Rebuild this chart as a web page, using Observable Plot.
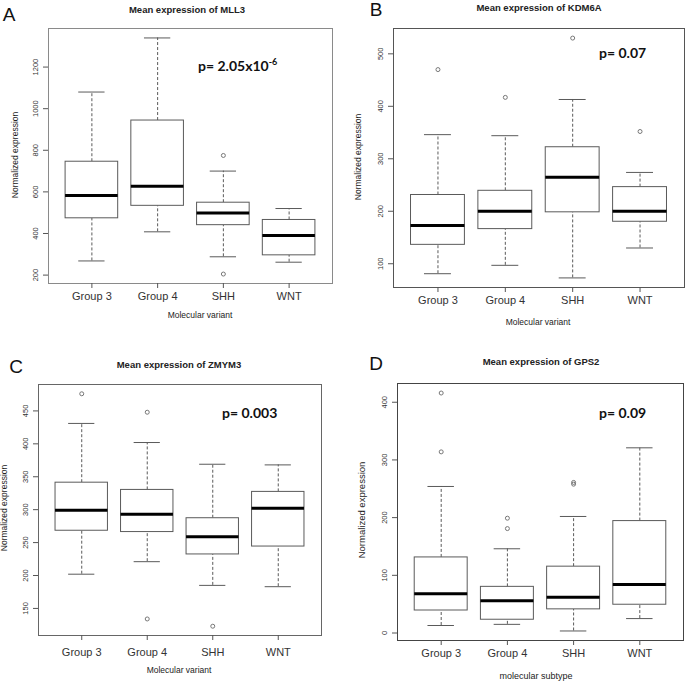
<!DOCTYPE html>
<html><head><meta charset="utf-8">
<script src="https://cdn.jsdelivr.net/npm/d3@7"></script>
<script src="https://cdn.jsdelivr.net/npm/@observablehq/plot@0.6"></script>
<style>
body{margin:0;background:#fff;}
#wrap{position:relative;width:685px;height:682px;overflow:hidden;background:#fff;font-family:"Liberation Sans",Arial,sans-serif;color:#222;}
.panel{position:absolute;}
.t{position:absolute;white-space:nowrap;line-height:1;}
.letter{font-size:19px;color:#111;}
.title{font-size:9.5px;font-weight:bold;}
.pval{font-family:Lato,"Open Sans",sans-serif;font-weight:bold;font-size:14px;color:#111;}
.ax{font-size:8.5px;}
</style></head><body><div id="wrap"></div>
<script>
const groups = ["Group 3", "Group 4", "SHH", "WNT"];

// Panel A: MLL3
const mll3Lower  = [268, 408, 288, 262];
const mll3Q1     = [473, 533, 440, 295];
const mll3Median = [583, 627, 498, 390];
const mll3Q3     = [745, 943, 548, 465];
const mll3Upper  = [1080, 1340, 700, 520];
const mll3Outliers = [["SHH", 775], ["SHH", 205]];
const mll3Ticks = [200, 400, 600, 800, 1000, 1200];

// Panel B: KDM6A
const kdm6aLower  = [81, 97, 73, 130];
const kdm6aQ1     = [136, 166, 198, 180];
const kdm6aMedian = [173, 200, 265, 200];
const kdm6aQ3     = [231, 239, 322, 246];
const kdm6aUpper  = [346, 344, 413, 274];
const kdm6aOutliers = [["Group 3", 470], ["Group 4", 417], ["SHH", 530], ["WNT", 352]];
const kdm6aTicks = [100, 200, 300, 400, 500];

// Panel C: ZMYM3
const zmym3Lower  = [202, 221, 185, 183];
const zmym3Q1     = [268, 266, 232, 244];
const zmym3Median = [299, 293, 259, 302];
const zmym3Q3     = [341, 330, 287, 327];
const zmym3Upper  = [431, 402, 369, 368];
const zmym3Outliers = [["Group 3", 476], ["Group 4", 448], ["Group 4", 134], ["SHH", 123]];
const zmym3Ticks = [150, 200, 250, 300, 350, 400, 450];

// Panel D: GPS2
const gps2Lower  = [13, 15, 3.5, 25];
const gps2Q1     = [39, 23, 41, 49];
const gps2Median = [68, 56, 62, 84];
const gps2Q3     = [131, 80, 115, 194];
const gps2Upper  = [254, 146, 202, 321];
const gps2Outliers = [["Group 3", 416], ["Group 3", 314], ["Group 4", 199], ["Group 4", 181], ["SHH", 258], ["SHH", 261]];
const gps2Ticks = [0, 100, 200, 300, 400];

function boxPanel(p) {
  const rows = groups.map((g, i) => ({g, x: i + 1, lo: p.lower[i], q1: p.q1[i], med: p.median[i], q3: p.q3[i], hi: p.upper[i]}));
  const outs = p.outliers.map(([g, v]) => ({x: groups.indexOf(g) + 1, v}));
  const all = [...p.lower, ...p.upper, ...outs.map(d => d.v)];
  const mn = d3.min(all), mx = d3.max(all), e = (mx - mn) * 0.04;
  const gray = "#5a5a5a";
  const svg = Plot.plot({
    width: p.w, height: p.h,
    marginLeft: p.ml, marginRight: p.mr, marginTop: p.mt, marginBottom: p.mb,
    x: {domain: [0.34, 4.66], axis: null},
    y: {domain: [mn - e, mx + e], axis: null},
    style: {background: "transparent", overflow: "visible", color: "#333", fontFamily: "'Liberation Sans', Arial, sans-serif"},
    marks: [
      Plot.ruleX(rows, {x: "x", y1: "lo", y2: "q1", stroke: gray, strokeDasharray: "3,2"}),
      Plot.ruleX(rows, {x: "x", y1: "q3", y2: "hi", stroke: gray, strokeDasharray: "3,2"}),
      Plot.ruleY(rows, {y: "lo", x1: d => d.x - 0.2, x2: d => d.x + 0.2, stroke: gray}),
      Plot.ruleY(rows, {y: "hi", x1: d => d.x - 0.2, x2: d => d.x + 0.2, stroke: gray}),
      Plot.rect(rows, {x1: d => d.x - 0.4, x2: d => d.x + 0.4, y1: "q1", y2: "q3", fill: "white", stroke: gray}),
      Plot.ruleY(rows, {y: "med", x1: d => d.x - 0.4, x2: d => d.x + 0.4, stroke: "#000", strokeWidth: 3}),
      Plot.dot(outs, {x: "x", y: "v", r: 2, stroke: "#777", fill: "none", strokeWidth: 1}),
      Plot.frame({stroke: p.frame}),
      Plot.axisY({ticks: p.ticks, tickFormat: d => String(d), tickSize: 5, tickPadding: 6, tickRotate: -90, fontSize: 7.5, label: null, stroke: "#555"}),
      Plot.axisX({ticks: [1, 2, 3, 4], tickFormat: i => groups[i - 1], tickSize: 5, tickPadding: p.xpad, fontSize: 11, label: null, stroke: "#555"})
    ]
  });
  svg.classList.add("panel");
  svg.style.left = p.left + "px";
  svg.style.top = p.top + "px";
  return svg;
}

const wrap = document.getElementById("wrap");
wrap.appendChild(boxPanel({left: 0, top: 0, w: 342, h: 320, ml: 48, mr: 10, mt: 28, mb: 37, xpad: 4,
  lower: mll3Lower, q1: mll3Q1, median: mll3Median, q3: mll3Q3, upper: mll3Upper, outliers: mll3Outliers, ticks: mll3Ticks, frame: "#8a8a8a"}));
wrap.appendChild(boxPanel({left: 342, top: 0, w: 343, h: 320, ml: 51, mr: 1, mt: 28, mb: 33, xpad: 4,
  lower: kdm6aLower, q1: kdm6aQ1, median: kdm6aMedian, q3: kdm6aQ3, upper: kdm6aUpper, outliers: kdm6aOutliers, ticks: kdm6aTicks, frame: "#555"}));
wrap.appendChild(boxPanel({left: 0, top: 320, w: 342, h: 362, ml: 38, mr: 21, mt: 64, mb: 47, xpad: 8,
  lower: zmym3Lower, q1: zmym3Q1, median: zmym3Median, q3: zmym3Q3, upper: zmym3Upper, outliers: zmym3Outliers, ticks: zmym3Ticks, frame: "#666"}));
wrap.appendChild(boxPanel({left: 342, top: 320, w: 343, h: 362, ml: 55, mr: 2, mt: 63, mb: 42, xpad: 4,
  lower: gps2Lower, q1: gps2Q1, median: gps2Median, q3: gps2Q3, upper: gps2Upper, outliers: gps2Outliers, ticks: gps2Ticks, frame: "#444"}));

function label(html, cls, x, y, opts = {}) {
  const d = document.createElement("div");
  d.className = "t " + cls;
  d.innerHTML = html;
  d.style.left = x + "px";
  d.style.top = y + "px";
  const ax = opts.align === "left" ? "0" : "-50%";
  d.style.transform = `translate(${ax},-50%)` + (opts.rot ? " rotate(-90deg)" : "");
  if (opts.size) d.style.fontSize = opts.size + "px";
  wrap.appendChild(d);
}

const letters = [["A", 9, 14], ["B", 376, 9], ["C", 16, 366], ["D", 376, 363]];
letters.forEach(([t, x, y]) => label(t, "letter", x, y));

const titles = [["Mean expression of MLL3", 187, 10], ["Mean expression of KDM6A", 539, 8], ["Mean expression of ZMYM3", 179, 365], ["Mean expression of GPS2", 541, 362]];
titles.forEach(([t, x, y]) => label(t, "title", x, y));

label('p= 2.05x10<sup style="font-size:9px;vertical-align:6px;line-height:0">-6</sup>', "pval", 198, 66, {align: "left"});
label("p= 0.07", "pval", 599, 53, {align: "left"});
label("p= 0.003", "pval", 222, 413, {align: "left"});
label("p= 0.09", "pval", 599, 413, {align: "left"});

const xTitles = [["Molecular variant", 200, 315, 8.5], ["Molecular variant", 538, 322, 8.5], ["Molecular variant", 179, 670, 8.5], ["molecular subtype", 536, 676, 9]];
xTitles.forEach(([t, x, y, s]) => label(t, "ax", x, y, {size: s}));
const yTitles = [[15, 155, 8.5], [358, 157, 8.5], [4, 508, 8.5], [362, 510, 9.5]];
yTitles.forEach(([x, y, s]) => label("Normalized expression", "ax", x, y, {rot: true, size: s}));
</script></body></html>
